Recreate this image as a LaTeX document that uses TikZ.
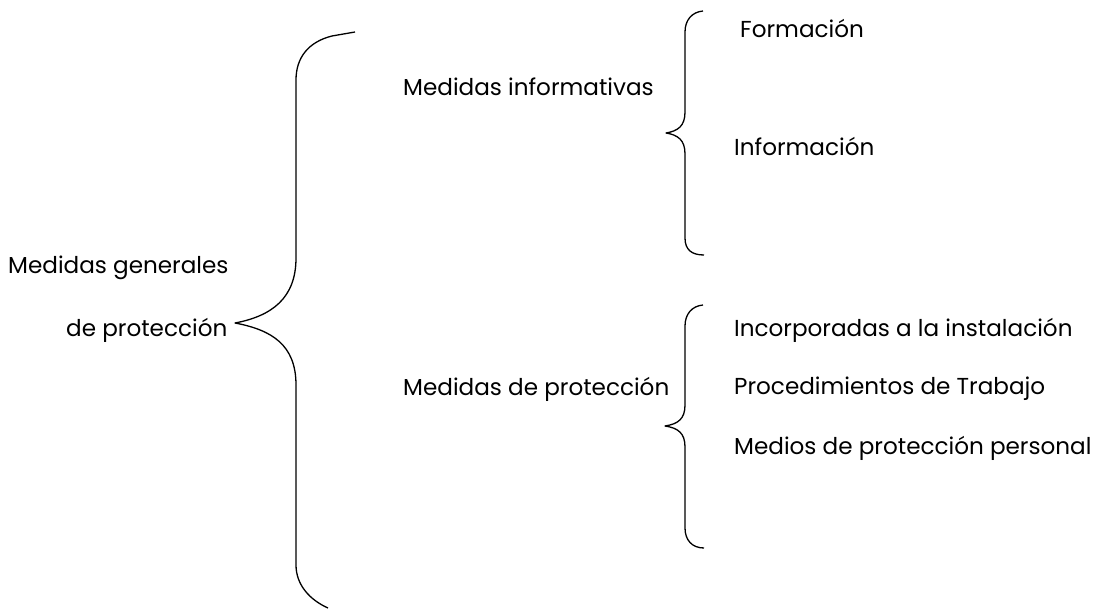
\documentclass[tikz,border=0pt]{standalone}
\usepackage{fontspec}
\setmainfont{Poppins}
\begin{document}
\begin{tikzpicture}[x=1pt,y=-1pt,
  lbl/.style={anchor=west,inner sep=0pt,font=\fontsize{23.1}{27}\selectfont},
  brace/.style={draw=black,line width=1.3pt,line join=round}]
\useasboundingbox (0,0) rectangle (1101,609);
% labels
\node[lbl] (gen1) at (8,268) {Medidas generales};
\node[lbl] (gen2) at (66,330) {de protección};
\node[lbl] (inf) at (403,87) {Medidas informativas};
\node[lbl] (prot) at (403,389) {Medidas de protección};
\node[lbl] (form) at (740,28) {Formación};
\node[lbl] (info) at (734,146) {Información};
\node[lbl] (inc) at (734,330) {Incorporadas a la instalación};
\node[lbl] (proc) at (734,389) {Procedimientos de Trabajo};
\node[lbl] (med) at (734,448) {Medios de protección personal};
% big brace
\coordinate (bt) at (235,323);
\draw[brace] (355,32) -- (332,36) .. controls (308,42) and (296,58) .. (296,80)
  -- (296,258) .. controls (296,298) and (272,316) .. (bt)
  .. controls (272,330) and (296,345) .. (296,385)
  -- (296,565) .. controls (296,585) and (310,600) .. (328,608);
% small brace 1
\coordinate (s1) at (666,133);
\draw[brace] (703,11) .. controls (692,12) and (685,20) .. (685,32)
  -- (685,112) .. controls (685,126) and (678,131) .. (s1)
  .. controls (678,135) and (685,140) .. (685,154)
  -- (685,238) .. controls (685,250) and (692,255) .. (704,255);
% small brace 2
\coordinate (s2) at (665,426);
\draw[brace] (703,305) .. controls (692,306) and (685,314) .. (685,326)
  -- (685,405) .. controls (685,419) and (678,424) .. (s2)
  .. controls (678,428) and (685,433) .. (685,447)
  -- (685,528) .. controls (685,540) and (692,548) .. (704,548);
\end{tikzpicture}
\end{document}
